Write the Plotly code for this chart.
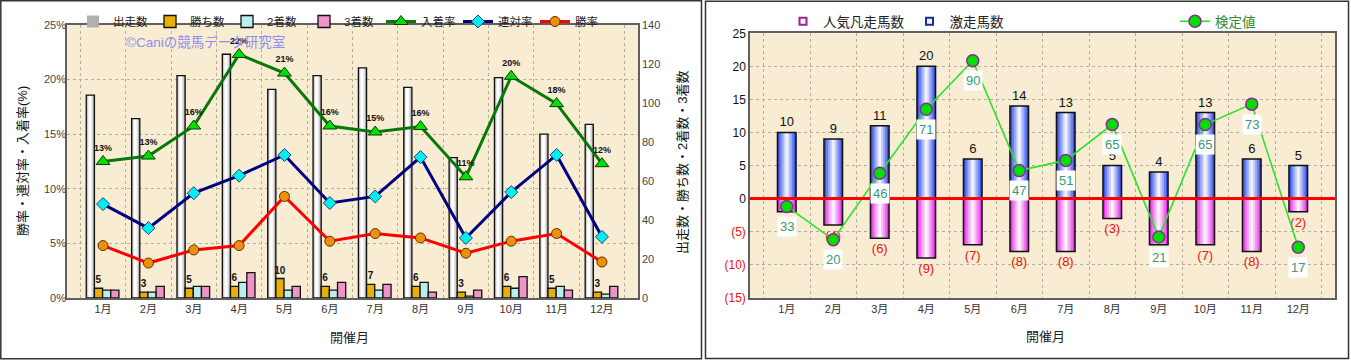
import plotly.graph_objects as go

# ---------------- data ----------------
months = ["1月", "2月", "3月", "4月", "5月", "6月", "7月", "8月", "9月", "10月", "11月", "12月"]

# left chart
starters = [104, 92, 114, 125, 107, 114, 118, 108, 72, 113, 84, 89]      # 出走数
wins = [5, 3, 5, 6, 10, 6, 7, 6, 3, 6, 5, 3]                              # 勝ち数
seconds = [4, 3, 6, 8, 4, 4, 4, 8, 1, 5, 6, 2]                            # 2着数
thirds = [4, 6, 6, 13, 6, 8, 7, 3, 4, 11, 4, 6]                           # 3着数
place_rate = [12.5, 13.0, 15.75, 22.3, 20.6, 15.75, 15.2, 15.7, 11.1, 20.3, 17.8, 12.3]  # 入着率
quinella_rate = [8.6, 6.4, 9.6, 11.2, 13.1, 8.7, 9.3, 12.9, 5.5, 9.7, 13.1, 5.6]       # 連対率
win_rate = [4.8, 3.2, 4.4, 4.8, 9.3, 5.2, 5.9, 5.5, 4.1, 5.2, 5.9, 3.3]                 # 勝率
pct_ticks = [0, 5, 10, 15, 20, 25]

# right chart
surge = [10, 9, 11, 20, 6, 14, 13, 5, 4, 13, 6, 5]          # 激走馬数
flop = [2, 4, 6, 9, 7, 8, 8, 3, 7, 7, 8, 2]                  # 人気凡走馬数 (drawn downward)
test_value = [33, 20, 46, 71, 90, 47, 51, 65, 21, 65, 73, 17]  # 検定値
right_ticks = [-15, -10, -5, 0, 5, 10, 15, 20, 25]

W, H = 1351, 360
FONT = "Liberation Sans, Noto Sans CJK JP, sans-serif"

fig = go.Figure()

# ---------- left chart: bars (yaxis 'y', counts on right side) ----------
BW = 0.18
offs = [-0.37, -0.19, -0.01, 0.17]

# 出走数 with pseudo gradient
fig.add_trace(go.Bar(x=months, y=starters, name="出走数", width=BW, offset=offs[0],
                     marker=dict(color="#B0B0B0", line=dict(width=0)),
                     xaxis="x", yaxis="y", legend="legend"))
fig.add_trace(go.Bar(x=months, y=starters, width=0.12, offset=offs[0] + 0.025,
                     marker=dict(color="#E2E2E2", line=dict(width=0)), showlegend=False,
                     xaxis="x", yaxis="y"))
fig.add_trace(go.Bar(x=months, y=starters, width=0.06, offset=offs[0] + 0.05,
                     marker=dict(color="#FFFFFF", line=dict(width=0)), showlegend=False,
                     xaxis="x", yaxis="y"))
fig.add_trace(go.Bar(x=months, y=starters, width=BW, offset=offs[0],
                     marker=dict(color="rgba(0,0,0,0)", line=dict(color="#111111", width=1.3)),
                     showlegend=False, xaxis="x", yaxis="y"))

fig.add_trace(go.Bar(x=months, y=wins, name="勝ち数", width=BW, offset=offs[1],
                     marker=dict(color="#E8B000", line=dict(color="#111111", width=1.3)),
                     text=[str(v) for v in wins], textposition="outside", constraintext="none",
                     textfont=dict(size=10, color="#111111", family="Liberation Sans"),
                     texttemplate="<b>%{text}</b>",
                     cliponaxis=False, xaxis="x", yaxis="y", legend="legend"))
fig.add_trace(go.Bar(x=months, y=seconds, name="2着数", width=BW, offset=offs[2],
                     marker=dict(color="#B8F0F0", line=dict(color="#111111", width=1.3)),
                     xaxis="x", yaxis="y", legend="legend"))
fig.add_trace(go.Bar(x=months, y=thirds, name="3着数", width=BW, offset=offs[3],
                     marker=dict(color="#F094C8", line=dict(color="#111111", width=1.3)),
                     xaxis="x", yaxis="y", legend="legend"))

# ---------- left chart: lines (yaxis 'y2', percent on left side) ----------
place_labels = [f"{int(v + 0.5)}%" for v in place_rate]
fig.add_trace(go.Scatter(x=months, y=place_rate, name="入着率", mode="lines+markers+text",
                         line=dict(color="#087808", width=3),
                         marker=dict(symbol="triangle-up", size=12, color="#00E000",
                                     line=dict(color="#0A3A0A", width=1)),
                         text=place_labels, textposition="top center",
                         textfont=dict(size=9, color="#111111", family="Liberation Sans"),
                         texttemplate="<b>%{text}</b>",
                         cliponaxis=False, xaxis="x", yaxis="y2", legend="legend"))
fig.add_trace(go.Scatter(x=months, y=quinella_rate, name="連対率", mode="lines+markers",
                         line=dict(color="#000080", width=3),
                         marker=dict(symbol="diamond", size=10, color="#00F0F0",
                                     line=dict(color="#204080", width=1)),
                         xaxis="x", yaxis="y2", legend="legend"))
fig.add_trace(go.Scatter(x=months, y=win_rate, name="勝率", mode="lines+markers",
                         line=dict(color="#FF0000", width=3),
                         marker=dict(symbol="circle", size=10, color="#F0900A",
                                     line=dict(color="#603000", width=1)),
                         xaxis="x", yaxis="y2", legend="legend"))

# ---------- right chart: bars ----------
neg_flop = [-v for v in flop]
pink_layers = [(0.40, "#E034E0"), (0.31, "#EA6CEA"), (0.22, "#F29EF2"), (0.13, "#F9CCF9"), (0.05, "#FFF2FF")]
blue_layers = [(0.40, "#3A52E6"), (0.31, "#6C80EE"), (0.22, "#9CABF4"), (0.13, "#CBD3FA"), (0.05, "#F2F4FF")]

# legend entries (small outlined squares as in the original)
fig.add_trace(go.Scatter(x=[None], y=[None], mode="markers", name="人気凡走馬数",
                         marker=dict(symbol="square", size=7, color="#FFF4FF",
                                     line=dict(color="#A0208C", width=2)),
                         legend="legend2", xaxis="x2", yaxis="y3"))
fig.add_trace(go.Scatter(x=[None], y=[None], mode="markers", name="激走馬数",
                         marker=dict(symbol="square", size=7, color="#F0F4FF",
                                     line=dict(color="#1A2A9A", width=2)),
                         legend="legend2", xaxis="x2", yaxis="y3"))

for wd, col in pink_layers:
    fig.add_trace(go.Bar(x=months, y=neg_flop, width=wd, showlegend=False,
                         marker=dict(color=col, line=dict(width=0)),
                         xaxis="x2", yaxis="y3"))
fig.add_trace(go.Bar(x=months, y=neg_flop, width=0.40, showlegend=False,
                     marker=dict(color="rgba(0,0,0,0)", line=dict(color="#111111", width=1.5)),
                     text=[f"({v})" for v in flop], textposition="outside", constraintext="none",
                     textfont=dict(size=13, color="#EE1111", family=FONT),
                     cliponaxis=False, xaxis="x2", yaxis="y3"))

for wd, col in blue_layers:
    fig.add_trace(go.Bar(x=months, y=surge, width=wd, showlegend=False,
                         marker=dict(color=col, line=dict(width=0)),
                         xaxis="x2", yaxis="y3"))
fig.add_trace(go.Bar(x=months, y=surge, width=0.40, showlegend=False,
                     marker=dict(color="rgba(0,0,0,0)", line=dict(color="#111111", width=1.5)),
                     text=[str(v) for v in surge], textposition="outside", constraintext="none",
                     textfont=dict(size=13, color="#111111", family=FONT),
                     cliponaxis=False, xaxis="x2", yaxis="y3"))

fig.add_trace(go.Scatter(x=months, y=test_value, name="検定値", mode="lines+markers",
                         line=dict(color="#30E030", width=1.6),
                         marker=dict(symbol="circle", size=12, color="#00E000",
                                     line=dict(color="#8A2A9A", width=1.5)),
                         legend="legend3", xaxis="x2", yaxis="y4", cliponaxis=False))

# ---------------- layout ----------------
PLOT_BG = "#F8ECD2"
grid = dict(showgrid=True, gridcolor="#B4AC9C", griddash="dot", gridwidth=1)

annotations = []
# 検定値 labels in white boxes
for m, v in zip(months, test_value):
    annotations.append(dict(x=m, y=v, xref="x2", yref="y4", text=str(v), showarrow=False,
                            yshift=-20, bgcolor="#FFFFFF", borderpad=2,
                            xanchor="center", yanchor="middle",
                            font=dict(size=13, color="#3A9A72", family=FONT)))


def px_x(p):
    return p / W


def px_y(p):
    return 1 - p / H


def txt(x, y, s, size=13, color="#111111", angle=0):
    return dict(x=px_x(x), y=px_y(y), xref="paper", yref="paper", text=s, showarrow=False,
                xanchor="center", yanchor="middle", textangle=angle,
                font=dict(size=size, color=color, family=FONT))


annotations += [
    txt(205, 42, "©Caniの競馬データ研究室", size=13.5, color="#8E8EF0"),
    txt(22, 161, "勝率・連対率・入着率(%)", angle=-90),
    txt(683, 163, "出走数・勝ち数・2着数・3着数", angle=-90),
    txt(350, 337, "開催月", color="#222222"),
    txt(1045, 336, "開催月", color="#222222"),
]

shapes = [
    dict(type="rect", xref="paper", yref="paper", x0=px_x(0.8), x1=px_x(701.5),
         y0=px_y(358.8), y1=px_y(0.8), line=dict(color="#333333", width=1.5), layer="above"),
    dict(type="rect", xref="paper", yref="paper", x0=px_x(705.5), x1=px_x(1348.5),
         y0=px_y(358.5), y1=px_y(1.2), line=dict(color="#333333", width=1.5), layer="above"),
    dict(type="line", xref="x2 domain", yref="y3", x0=0, x1=1, y0=0, y1=0,
         line=dict(color="#FF0000", width=3), layer="above"),
]

right_ticktext = [f"<span style='color:#EE1111'>({-v})</span>" if v < 0 else str(v) for v in right_ticks]

fig.update_layout(
    width=W, height=H, autosize=False,
    margin=dict(l=0, r=0, t=0, b=0, autoexpand=False),
    paper_bgcolor="#FFFFFF", plot_bgcolor=PLOT_BG,
    font=dict(family=FONT, size=11, color="#333333"),
    barmode="overlay",
    showlegend=True,
    xaxis=dict(domain=[px_x(67), px_x(638)], type="category", tickson="boundaries",
               anchor="y", showline=True, mirror=True, linecolor="#606060", linewidth=1.5,
               ticks="", tickfont=dict(size=11, color="#333333"), **grid),
    yaxis=dict(domain=[px_y(298), px_y(25)], range=[0, 140], dtick=20, side="right",
               anchor="x", showgrid=False, showline=True, mirror=True, linecolor="#606060",
               linewidth=1.5, ticks="", tickfont=dict(size=11, color="#444444"), zeroline=False),
    yaxis2=dict(range=[0, 25], tickvals=pct_ticks, ticktext=[f"{v}%" for v in pct_ticks],
                side="left", overlaying="y", anchor="x", ticks="",
                tickfont=dict(size=11, color="#444444"), zeroline=False, **grid),
    xaxis2=dict(domain=[px_x(750), px_x(1335)], type="category", tickson="boundaries",
                anchor="y3", showline=True, mirror=True, linecolor="#606060", linewidth=1.5,
                ticks="", tickfont=dict(size=11, color="#333333"), **grid),
    yaxis3=dict(domain=[px_y(297.7), px_y(33.3)], range=[-15, 25], tickvals=right_ticks,
                ticktext=right_ticktext, anchor="x2", showline=True, mirror=True,
                linecolor="#606060", linewidth=1.5, ticks="", zeroline=False,
                tickfont=dict(size=12, color="#111111"), **grid),
    yaxis4=dict(range=[-2.7, 100.7], overlaying="y3", anchor="x2", visible=False,
                showgrid=False, zeroline=False),
    legend=dict(orientation="h", x=px_x(73), y=px_y(7), xanchor="left", yanchor="top",
                bgcolor="rgba(0,0,0,0)", font=dict(size=11.5, color="#222222"),
                itemwidth=30, traceorder="normal", entrywidth=32, entrywidthmode="pixels"),
    legend2=dict(orientation="h", x=px_x(783), y=px_y(6), xanchor="left", yanchor="top",
                 bgcolor="rgba(0,0,0,0)", font=dict(size=13.5, color="#222222"),
                 itemwidth=30, traceorder="normal"),
    legend3=dict(orientation="h", x=px_x(1175), y=px_y(6), xanchor="left", yanchor="top",
                 bgcolor="rgba(0,0,0,0)", font=dict(size=13.5, color="#2E8B3E"),
                 itemwidth=30),
    annotations=annotations,
    shapes=shapes,
)

fig.write_html("out.html",
               config={"displayModeBar": False},
               post_script="document.body.style.margin='0';document.body.style.padding='0';"
                           "document.body.style.overflow='hidden';")
